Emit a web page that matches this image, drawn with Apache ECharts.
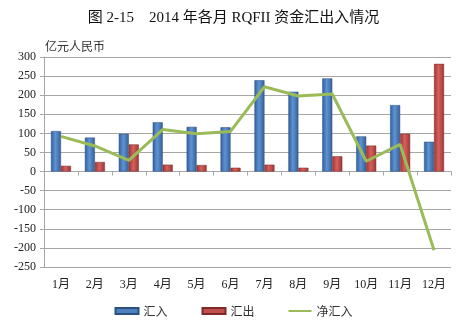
<!DOCTYPE html>
<html>
<head>
<meta charset="utf-8">
<script src="https://cdn.jsdelivr.net/npm/echarts@6/dist/echarts.min.js"></script>
<style>
  html, body { margin: 0; padding: 0; background: #fff; }
  #chart { width: 467px; height: 330px; }
</style>
</head>
<body>
<div id="chart"></div>
<script>
// Monthly RQFII inflows / outflows, 2014 (亿元人民币)
const months = ['1月', '2月', '3月', '4月', '5月', '6月', '7月', '8月', '9月', '10月', '11月', '12月'];
const inflow = [106, 89, 99, 129, 117, 116, 239, 209, 244, 92, 174, 78];
const outflow = [15, 25, 71, 18, 17, 10, 18, 10, 40, 68, 99, 282];
const netInflow = [92, 67, 29, 110, 99, 105, 222, 198, 203, 27, 71, -206];
const yTicks = { min: -250, max: 300, interval: 50 };

const serif = '"Liberation Serif", "Noto Sans CJK SC", serif';
const sans = '"Noto Sans CJK SC", "Liberation Sans", sans-serif';

const chart = echarts.init(document.getElementById('chart'), null, { renderer: 'canvas' });

const blueFill = new echarts.graphic.LinearGradient(0, 0, 1, 0, [
  { offset: 0, color: '#2f5f9c' },
  { offset: 0.45, color: '#5f93d3' },
  { offset: 1, color: '#355f96' }
]);
const redFill = new echarts.graphic.LinearGradient(0, 0, 1, 0, [
  { offset: 0, color: '#9c3532' },
  { offset: 0.45, color: '#d6605c' },
  { offset: 1, color: '#9a3834' }
]);

chart.setOption({
  animation: false,
  backgroundColor: '#fff',
  title: [
    {
      text: '图 2-15    2014 年各月 RQFII 资金汇出入情况',
      left: 'center',
      top: 6,
      textStyle: { fontFamily: serif, fontSize: 15, fontWeight: 'normal', color: '#111' }
    },
    {
      text: '亿元人民币',
      left: 40,
      top: 35,
      textStyle: { fontFamily: sans, fontSize: 12, fontWeight: 'normal', color: '#333' }
    }
  ],
  legend: {
    bottom: 8,
    left: 'center',
    itemWidth: 23,
    itemHeight: 6,
    itemGap: 34,
    textStyle: { fontFamily: sans, fontSize: 12, color: '#333' },
    data: [
      { name: '汇入', icon: 'rect', itemStyle: { color: '#4f81bd' } },
      { name: '汇出', icon: 'rect', itemStyle: { color: '#c0504d' } },
      { name: '净汇入', icon: 'path://M0 0H69V6H0Z', itemStyle: { color: '#9bbb59' } }
    ]
  },
  grid: { left: 44, right: 16, top: 57, bottom: 63 },
  xAxis: [
    {
      type: 'category',
      data: months,
      axisLine: { onZero: true, lineStyle: { color: '#a6a6a6' } },
      axisTick: { show: true, length: 4, lineStyle: { color: '#a6a6a6' } },
      axisLabel: { show: false }
    },
    {
      type: 'category',
      data: months,
      position: 'bottom',
      axisLine: { show: false, onZero: false },
      axisTick: { show: false },
      axisLabel: { fontFamily: serif, fontSize: 12, color: '#222', margin: 12 }
    }
  ],
  yAxis: {
    type: 'value',
    min: yTicks.min,
    max: yTicks.max,
    interval: yTicks.interval,
    axisLine: { show: true, lineStyle: { color: '#a6a6a6' } },
    axisTick: { show: true, length: 4, lineStyle: { color: '#a6a6a6' } },
    axisLabel: { fontFamily: serif, fontSize: 12, color: '#222', margin: 8 },
    splitLine: { lineStyle: { color: '#a6a6a6', width: 1 } }
  },
  series: [
    {
      name: '汇入',
      type: 'bar',
      data: inflow,
      barWidth: 10,
      barGap: '0%',
      itemStyle: { color: blueFill, borderColor: '#2a4f80', borderWidth: 0.5 }
    },
    {
      name: '汇出',
      type: 'bar',
      data: outflow,
      barWidth: 10,
      barGap: '0%',
      itemStyle: { color: redFill, borderColor: '#7d2a28', borderWidth: 0.5 }
    },
    {
      name: '净汇入',
      type: 'line',
      data: netInflow,
      showSymbol: false,
      symbol: 'none',
      lineStyle: { color: '#9bbb59', width: 3 },
      itemStyle: { color: '#9bbb59' },
      z: 5
    }
  ]
});
</script>
</body>
</html>
